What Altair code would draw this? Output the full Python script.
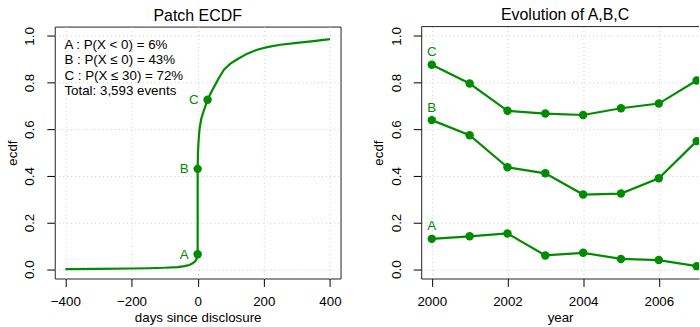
import altair as alt
import pandas as pd

# ---------------- data ----------------
ecdf_days = [-400, -300, -200, -150, -100, -60, -40, -25, -15, -8, -4, -1, 0,
             0, 1, 3, 6, 11, 18, 30, 42, 53, 65, 80, 100, 120, 150, 180, 210,
             250, 300, 350, 400]
ecdf_vals = [0.000, 0.001, 0.003, 0.004, 0.006, 0.009, 0.013, 0.018, 0.025,
             0.033, 0.042, 0.052, 0.064,
             0.430, 0.500, 0.555, 0.605, 0.645, 0.677, 0.726, 0.762, 0.790,
             0.822, 0.856, 0.882, 0.900, 0.924, 0.941, 0.952, 0.962, 0.970,
             0.978, 0.986]

mark_names = ["A", "B", "C"]
mark_days = [0, 0, 30]
mark_vals = [0.064, 0.43, 0.726]

annotation_lines = [
    "A : P(X < 0) = 6%",
    "B : P(X \u2264 0) = 43%",
    "C : P(X \u2264 30) = 72%",
    "Total: 3,593 events",
]

years = [2000, 2001, 2002, 2003, 2004, 2005, 2006, 2007]
series_A = [0.130, 0.141, 0.153, 0.059, 0.070, 0.044, 0.039, 0.013]
series_B = [0.639, 0.574, 0.437, 0.411, 0.320, 0.324, 0.390, 0.549]
series_C = [0.876, 0.796, 0.679, 0.667, 0.661, 0.690, 0.710, 0.809]

# ---------------- style ----------------
GREEN = "#008B00"
FONT = "Liberation Sans"
FS = 13.4
BOX = "#222222"

LEFT_W, RIGHT_W, H = 287, 279, 253

axis_common = dict(
    labelFont=FONT, labelFontSize=FS, labelColor="black",
    titleFont=FONT, titleFontSize=FS, titleFontWeight="normal", titleColor="black",
    tickColor="black", tickSize=8, tickWidth=1,
    gridColor="#cccccc", gridDash=[1, 3], gridWidth=1,
    labelFlush=False, labelOverlap=False,
)
x_axis_style = dict(labelPadding=8, titlePadding=3)
y_axis_style = dict(labelAngle=270, labelAlign="center", labelBaseline="bottom",
                    labelPadding=10, titlePadding=3.5, format=".1f",
                    values=[0, 0.2, 0.4, 0.6, 0.8, 1.0])

y_scale = alt.Scale(domain=[-0.04, 1.04], nice=False, zero=False)
one_row = pd.DataFrame({"k": [0]})

# ---------------- left panel ----------------
df_curve = pd.DataFrame({"days": ecdf_days, "ecdf": ecdf_vals,
                         "i": list(range(len(ecdf_days)))})
df_marks = pd.DataFrame({"days": mark_days, "ecdf": mark_vals, "name": mark_names})

xL = alt.X("days:Q", scale=alt.Scale(domain=[-432, 432], nice=False, zero=False),
           axis=alt.Axis(values=[-400, -200, 0, 200, 400], title="days since disclosure",
                         domain=False, **axis_common, **x_axis_style))
yL = alt.Y("ecdf:Q", scale=y_scale,
           axis=alt.Axis(title="ecdf", domain=False, **axis_common, **y_axis_style))

curve = alt.Chart(df_curve).mark_line(color=GREEN, strokeWidth=2.2).encode(
    x=xL, y=yL, order="i:Q")
pts = alt.Chart(df_marks).mark_circle(color=GREEN, size=72, opacity=1).encode(
    x="days:Q", y="ecdf:Q")
lbls = alt.Chart(df_marks).mark_text(
    color=GREEN, font=FONT, fontSize=FS, align="right", baseline="alphabetic",
    dx=-9, dy=4.5).encode(x="days:Q", y="ecdf:Q", text="name:N")

ann_layers = []
for i, line in enumerate(annotation_lines):
    ann_layers.append(
        alt.Chart(one_row).mark_text(
            font=FONT, fontSize=FS, color="black", align="left",
            baseline="alphabetic", dy=15.6 * i, text=line
        ).encode(x=alt.datum(-402.8), y=alt.datum(0.946))
    )

left = alt.layer(curve, pts, lbls, *ann_layers).properties(
    width=LEFT_W, height=H,
    title=alt.TitleParams("Patch ECDF", font=FONT, fontSize=16, fontWeight="normal",
                          color="black", anchor="middle", offset=3),
    view=alt.ViewBackground(stroke=BOX, strokeWidth=1),
)

# ---------------- right panel ----------------
rows = []
for name, vals in (("A", series_A), ("B", series_B), ("C", series_C)):
    for y_, v in zip(years, vals):
        rows.append({"year": y_, "ecdf": v, "series": name})
df_evo = pd.DataFrame(rows)
df_first = df_evo[df_evo["year"] == years[0]]

xR = alt.X("year:Q",
           scale=alt.Scale(domain=[1999.72, 1999.72 + RIGHT_W / 38.0], nice=False, zero=False),
           axis=alt.Axis(values=years, title="year", format="d",
                         labelExpr="datum.value % 2 === 0 ? datum.label : ''",
                         domain=True, domainColor=BOX, **axis_common, **x_axis_style))
yR = alt.Y("ecdf:Q", scale=y_scale,
           axis=alt.Axis(title="ecdf", domain=True, domainColor=BOX,
                         **axis_common, **y_axis_style))

evo_lines = alt.Chart(df_evo).mark_line(color=GREEN, strokeWidth=2.2, clip=True).encode(
    x=xR, y=yR, detail="series:N")
evo_pts = alt.Chart(df_evo).mark_circle(color=GREEN, size=72, opacity=1, clip=True).encode(
    x="year:Q", y="ecdf:Q")
evo_lbls = alt.Chart(df_first).mark_text(
    color=GREEN, font=FONT, fontSize=FS, align="center", baseline="alphabetic",
    dy=-8.5).encode(x="year:Q", y="ecdf:Q", text="series:N")
top_border = alt.Chart(one_row).mark_rule(color=BOX, strokeWidth=1).encode(
    x=alt.value(0), x2=alt.value(RIGHT_W), y=alt.value(0))

right = alt.layer(evo_lines, evo_pts, evo_lbls, top_border).properties(
    width=RIGHT_W, height=H,
    title=alt.TitleParams("Evolution of A,B,C", font=FONT, fontSize=16, fontWeight="normal",
                          color="black", anchor="middle", offset=3, dx=5),
    view=alt.ViewBackground(stroke="transparent"),
)

chart = alt.hconcat(left, right, spacing=81, bounds="flush").properties(
    padding={"left": 4, "top": 6, "right": 0, "bottom": 0},
    background="white",
)

chart.save("out.html", embed_options={"renderer": "svg", "actions": False})
